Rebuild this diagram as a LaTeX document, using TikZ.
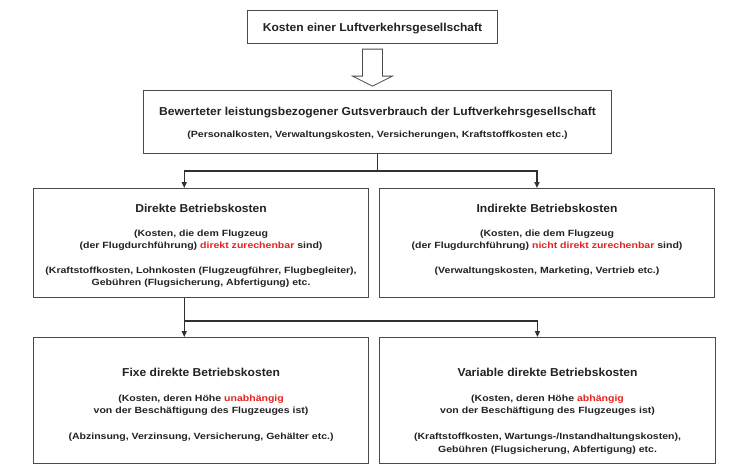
\documentclass[tikz,border=0pt]{standalone}
\usepackage{fontspec}
\setmainfont{Liberation Sans}[FakeStretch=1.17]
\newfontfamily\hdfont{Liberation Sans}[FakeStretch=1.05]
\usepackage{xcolor}
\usetikzlibrary{arrows.meta,calc}
\definecolor{bd}{HTML}{4A4A4A}
\definecolor{lk}{HTML}{303030}
\definecolor{hot}{HTML}{E42320}
\definecolor{tx}{HTML}{222222}
\newcommand{\hot}[1]{\textcolor{hot}{#1}}
\newcommand{\hd}[1]{{\hdfont\fontsize{11.5}{14}\selectfont\strut #1\par}}
\newcommand{\bdy}{\fontsize{9}{12.3}\selectfont}
\newcommand{\gap}{\par\vspace{\bxgap}}
% width, height, top space, space between groups, text
\newcommand{\bx}[5]{\begin{minipage}[t][#2][t]{#1}\lineskiplimit=-\maxdimen\def\bxgap{#4}\centering\vspace*{#3}#5\end{minipage}}
\tikzset{
  box/.style={draw=bd,line width=1.1pt,inner sep=0pt,anchor=north west,font=\bfseries,text=tx},
  ar/.style={-{Triangle[length=6pt,width=5pt]},line width=1.4pt,draw=lk},
  link/.style={line width=1.4pt,draw=lk},
  hollow/.style={draw=bd,line width=0.8pt,fill=white,line join=miter},
}
\begin{document}
\begin{tikzpicture}[x=1pt,y=-1pt]
\useasboundingbox[fill=white] (0,0) rectangle (745,475);
% boxes
\node[box] (top) at (247,10) {\bx{250pt}{33pt}{10.9pt}{0pt}{\hd{Kosten einer Luftverkehrsgesellschaft}}};
\node[box] (gut) at (143,90) {\bx{468pt}{63pt}{15.2pt}{9.9pt}{%
\hd{Bewerteter leistungsbezogener Gutsverbrauch der Luftverkehrsgesellschaft}
\bdy\gap(Personalkosten, Verwaltungskosten, Versicherungen, Kraftstoffkosten etc.)}};
\node[box] (direkt) at (33,188) {\bx{335pt}{109pt}{13.9pt}{12.2pt}{%
\hd{Direkte Betriebskosten}
\bdy\vspace{11.9pt}(Kosten, die dem Flugzeug\\(der Flugdurchführung) \hot{direkt zurechenbar} sind)\gap
(Kraftstoffkosten, Lohnkosten (Flugzeugführer, Flugbegleiter),\\Gebühren (Flugsicherung, Abfertigung) etc.}};
\node[box] (indirekt) at (379,188) {\bx{335pt}{109pt}{13.9pt}{12.2pt}{%
\hd{Indirekte Betriebskosten}
\bdy\vspace{11.9pt}(Kosten, die dem Flugzeug\\(der Flugdurchführung) \hot{nicht direkt zurechenbar} sind)\gap
(Verwaltungskosten, Marketing, Vertrieb etc.)}};
\node[box] (fix) at (33,337) {\bx{335pt}{126pt}{28.9pt}{13.7pt}{%
\hd{Fixe direkte Betriebskosten}
\bdy\vspace{12.9pt}(Kosten, deren Höhe \hot{unabhängig}\\von der Beschäftigung des Flugzeuges ist)\gap
(Abzinsung, Verzinsung, Versicherung, Gehälter etc.)}};
\node[box] (var) at (379,337) {\bx{336pt}{126pt}{28.9pt}{13.7pt}{%
\hd{Variable direkte Betriebskosten}
\bdy\vspace{12.9pt}(Kosten, deren Höhe \hot{abhängig}\\von der Beschäftigung des Flugzeuges ist)\gap
(Kraftstoffkosten, Wartungs-/Instandhaltungskosten),\\Gebühren (Flugsicherung, Abfertigung) etc.}};
% hollow arrow
\draw[hollow] ($(top.south)+(-10,5)$) -- ($(top.south)+(10,5)$) -- ($(top.south)+(10,32)$)
  -- ($(top.south)+(20,32)$) -- ($(top.south)+(0,42)$) -- ($(top.south)+(-20,32)$)
  -- ($(top.south)+(-10,32)$) -- cycle;
% connectors
\coordinate (j1) at ($(gut.south)+(0,17)$);
\coordinate (j2) at ($($(direkt.south west)!0.45!(direkt.south east)$)+(0,23)$);
\draw[link] (gut.south) -- (j1);
\draw[ar] (j1) -| ($(direkt.north west)!0.45!(direkt.north east)$);
\draw[ar] (j1) -| ($(indirekt.north west)!0.47!(indirekt.north east)$);
\draw[ar] ($(direkt.south west)!0.45!(direkt.south east)$) -- ($(fix.north west)!0.45!(fix.north east)$);
\draw[ar] (j2) -| ($(var.north west)!0.47!(var.north east)$);
\end{tikzpicture}
\end{document}
